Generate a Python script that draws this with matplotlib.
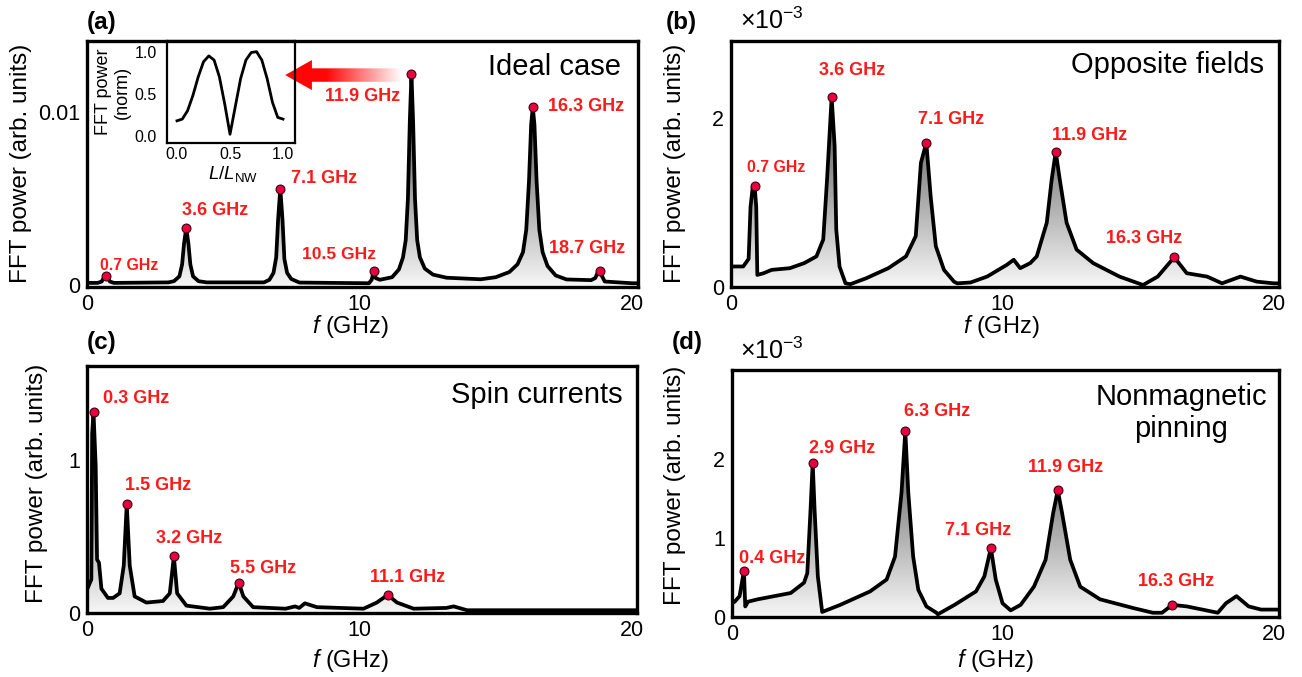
"""Four-panel FFT power spectra of nanowire spin-wave modes with peak labels."""

import matplotlib
matplotlib.use("Agg")
import matplotlib.pyplot as plt
import numpy as np
from matplotlib.colors import LinearSegmentedColormap
from matplotlib.patches import Polygon

plt.rcParams["font.family"] = ["Liberation Sans", "DejaVu Sans"]
plt.rcParams["mathtext.fontset"] = "custom"
plt.rcParams["mathtext.rm"] = "Liberation Sans"
plt.rcParams["mathtext.it"] = "Liberation Sans:italic"
plt.rcParams["mathtext.bf"] = "Liberation Sans:bold"

# ─────────────────────────────────────────────────────────────────────────────
# DATA (frequency in GHz, power in units of 1e-3 except panel c)
# ─────────────────────────────────────────────────────────────────────────────

freq_a = [0.0, 0.4, 0.55, 0.63, 0.70, 0.77, 0.85, 1.0, 3.0, 3.2, 3.4, 3.5, 3.57, 3.65,
          3.73, 3.8, 3.9, 4.1, 4.4, 6.5, 6.7, 6.85, 6.95, 7.02, 7.10, 7.18, 7.25,
          7.35, 7.5, 7.8, 10.35, 10.45, 10.53, 10.6, 10.75, 11.2, 11.45, 11.6, 11.7,
          11.78, 11.85, 11.91, 11.97, 12.04, 12.12, 12.22, 12.4, 12.7, 13.2, 14.45,
          15.0, 15.5, 15.8, 16.0, 16.12, 16.22, 16.3, 16.36, 16.42, 16.5, 16.6,
          16.72, 16.9, 17.2, 17.6, 18.5, 18.65, 18.75, 18.81, 18.87, 19.0, 20.0, 20.25]
power_a = [0.12, 0.12, 0.2, 0.42, 0.52, 0.42, 0.2, 0.12, 0.15, 0.22, 0.5, 1.2, 2.4, 3.3,
           2.4, 1.2, 0.5, 0.22, 0.15, 0.15, 0.3, 0.7, 1.6, 3.8, 5.58, 3.8, 1.5,
           0.7, 0.35, 0.14, 0.1, 0.3, 0.81, 0.4, 0.3, 0.45, 0.9, 1.6, 2.6,
           5.0, 9.5, 12.2, 9.5, 5.0, 2.6, 1.6, 0.95, 0.6, 0.42, 0.33,
           0.45, 0.75, 1.2, 1.9, 3.2, 6.0, 9.3, 10.3, 9.3, 6.0, 3.2,
           1.9, 1.1, 0.55, 0.32, 0.28, 0.4, 0.75, 0.81, 0.6, 0.2, 0.1, 0.1]
peak_f_a = [0.70, 3.65, 7.10, 10.53, 11.91, 16.36, 18.81]
peak_p_a = [0.52, 3.3, 5.58, 0.81, 12.2, 10.3, 0.81]
peak_lab_a = ["0.7 GHz", "3.6 GHz", "7.1 GHz", "10.5 GHz", "11.9 GHz", "16.3 GHz", "18.7 GHz"]

freq_b = [0.0, 0.45, 0.65, 0.72, 0.8, 0.87, 0.93, 0.97, 1.2, 1.5, 2.17, 2.7, 3.15, 3.4,
          3.54, 3.71, 3.82, 3.88, 4.0, 4.22, 4.4, 4.98, 5.8, 6.45, 6.81, 7.0, 7.2,
          7.36, 7.55, 7.85, 8.22, 8.34, 8.83, 9.44, 10.17, 10.42, 10.66, 11.03, 11.27,
          11.64, 11.82, 11.97, 12.12, 12.37, 12.74, 13.35, 14.32, 15.19, 15.73, 16.34,
          16.8, 17.55, 18.1, 18.78, 19.38, 20.0, 20.2]
power_b = [0.24, 0.24, 0.33, 0.95, 1.18, 1.2, 0.95, 0.14, 0.16, 0.2, 0.22, 0.28, 0.36, 0.56,
           1.27, 2.25, 1.67, 0.68, 0.24, 0.04, 0.03, 0.10, 0.22, 0.36, 0.6, 1.47, 1.71,
           1.07, 0.48, 0.2, 0.06, 0.04, 0.05, 0.12, 0.26, 0.32, 0.22, 0.28, 0.36,
           0.76, 1.27, 1.6, 1.27, 0.76, 0.44, 0.28, 0.12, 0.02, 0.12, 0.35,
           0.16, 0.12, 0.04, 0.12, 0.06, 0.04, 0.04]
peak_f_b = [0.87, 3.71, 7.2, 11.97, 16.34]
peak_p_b = [1.2, 2.25, 1.71, 1.6, 0.35]
peak_lab_b = ["0.7 GHz", "3.6 GHz", "7.1 GHz", "11.9 GHz", "16.3 GHz"]

freq_c = [0.0, 0.05, 0.17, 0.2, 0.25, 0.33, 0.38, 0.45, 0.54, 0.78, 0.97, 1.21, 1.36,
          1.47, 1.58, 1.76, 2.19, 2.8, 3.05, 3.2, 3.32, 3.66, 4.52, 5.01, 5.38, 5.58,
          5.75, 6.11, 7.3, 7.65, 7.8, 8.01, 8.45, 10.16, 10.65, 11.05, 11.39, 12.0,
          13.2, 13.47, 13.96, 20.0, 20.2]
power_c = [0.15, 0.17, 0.22, 1.17, 1.31, 0.96, 0.35, 0.33, 0.16, 0.10, 0.10, 0.13, 0.31,
           0.71, 0.31, 0.11, 0.07, 0.08, 0.13, 0.37, 0.13, 0.05, 0.03, 0.04, 0.11, 0.2,
           0.11, 0.04, 0.03, 0.045, 0.035, 0.065, 0.04, 0.03, 0.07, 0.12, 0.07, 0.03,
           0.035, 0.045, 0.02, 0.02, 0.02]
peak_f_c = [0.25, 1.47, 3.2, 5.58, 11.05]
peak_p_c = [1.31, 0.71, 0.37, 0.2, 0.12]
peak_lab_c = ["0.3 GHz", "1.5 GHz", "3.2 GHz", "5.5 GHz", "11.1 GHz"]

freq_d = [0.0, 0.1, 0.28, 0.44, 0.49, 0.59, 0.95, 2.17, 2.66, 2.78, 2.9, 2.98, 3.05,
          3.17, 3.33, 4.0, 5.1, 5.71, 6.02, 6.26, 6.4, 6.51, 6.69, 6.88, 7.18, 7.55,
          7.6, 8.22, 9.01, 9.32, 9.56, 9.74, 9.99, 10.29, 10.66, 11.15, 11.58, 11.86,
          12.03, 12.19, 12.49, 12.86, 13.59, 14.81, 15.54, 15.88, 16.26, 16.8, 17.94,
          18.24, 18.63, 19.08, 19.54, 20.0, 20.2]
power_d = [0.17, 0.19, 0.26, 0.58, 0.13, 0.19, 0.22, 0.3, 0.43, 0.55, 1.35, 1.95, 1.35,
           0.51, 0.06, 0.15, 0.32, 0.47, 0.76, 1.57, 2.35, 1.57, 0.76, 0.34, 0.13, 0.05,
           0.03, 0.15, 0.32, 0.51, 0.87, 0.47, 0.17, 0.08, 0.15, 0.38, 0.72, 1.31,
           1.6, 1.31, 0.72, 0.38, 0.22, 0.11, 0.05, 0.05, 0.15, 0.13, 0.05,
           0.17, 0.26, 0.13, 0.09, 0.09, 0.09]
peak_f_d = [0.44, 2.98, 6.4, 9.56, 12.03, 16.26]
peak_p_d = [0.58, 1.95, 2.35, 0.87, 1.6, 0.15]
peak_lab_d = ["0.4 GHz", "2.9 GHz", "6.3 GHz", "7.1 GHz", "11.9 GHz", "16.3 GHz"]

# inset of panel (a): normalised mode profile along the wire
inset_pos = [0.0, 0.05, 0.1, 0.15, 0.2, 0.25, 0.3, 0.35, 0.4, 0.45, 0.5, 0.55, 0.6,
             0.65, 0.7, 0.75, 0.8, 0.85, 0.9, 0.95, 1.0]
inset_power = [0.18, 0.2, 0.3, 0.48, 0.7, 0.88, 0.95, 0.9, 0.7, 0.38, 0.02, 0.35, 0.68,
               0.9, 0.99, 1.0, 0.9, 0.68, 0.4, 0.22, 0.2]

# ─────────────────────────────────────────────────────────────────────────────
# LAYOUT (label positions in data coordinates, sizes in pt)
# ─────────────────────────────────────────────────────────────────────────────

label_xy_a = [(1.55, 1.12), (4.69, 4.3), (8.71, 6.14), (9.24, 1.74), (10.13, 10.94),
              (18.3, 10.36), (18.35, 2.12)]
label_size_a = [11.4, 13, 13, 12.6, 13, 13, 13]
label_xy_b = [(1.66, 1.41), (4.48, 2.57), (8.1, 1.99), (13.2, 1.79), (15.24, 0.57)]
label_size_b = [11.4, 13, 13, 13, 13]
label_xy_c = [(1.83, 1.40), (2.62, 0.83), (3.77, 0.49), (6.48, 0.29), (11.76, 0.23)]
label_size_c = [13] * 5
label_xy_d = [(1.5, 0.74), (4.05, 2.13), (7.56, 2.59), (9.08, 1.09), (12.32, 1.89),
              (16.41, 0.45)]
label_size_d = [13] * 6

W, H = 1302, 677
XMAX = 20.2
LABEL_RED = "#ff1a1a"
GRAY = LinearSegmentedColormap.from_list("fill", ["#f7f7f7", "#1c1c1c"])

fig = plt.figure(figsize=(W / 100, H / 100), dpi=100)


def px_box(left, top, right, bottom):
    """Convert a pixel box (origin top-left) to figure fractions."""
    return [left / W, 1 - bottom / H, (right - left) / W, (bottom - top) / H]


def fig_text(x, y, s, **kw):
    """Place text at a pixel position (origin top-left)."""
    return fig.text(x / W, 1 - y / H, s, **kw)


def draw_panel(box, freq, power, ylim, yticks, yticklabels, peak_f, peak_p,
               peak_labels, label_xy, label_sizes):
    ax = fig.add_axes(box)

    # vertical grey gradient clipped to the area under the spectrum
    grad = np.linspace(0, 1, 256).reshape(-1, 1)
    im = ax.imshow(grad, cmap=GRAY, origin="lower", aspect="auto",
                   extent=[0, XMAX, ylim[0], ylim[1]], zorder=1,
                   interpolation="bilinear")
    verts = [(freq[0], ylim[0])] + list(zip(freq, power)) + [(freq[-1], ylim[0])]
    under = Polygon(verts, closed=True, facecolor="none", edgecolor="none")
    ax.add_patch(under)
    im.set_clip_path(under)

    ax.plot(freq, power, color="black", lw=2.7, solid_joinstyle="round",
            solid_capstyle="round", zorder=3)
    ax.plot(peak_f, peak_p, "o", ms=6.4, mfc="#e8003f", mec="#3d0010", mew=0.8,
            zorder=4, clip_on=False)
    for lab, (lx, ly), size in zip(peak_labels, label_xy, label_sizes):
        ax.text(lx, ly, lab, color=LABEL_RED, fontweight="bold", fontsize=size,
                ha="center", va="center", zorder=5)

    ax.set_xlim(0, XMAX)
    ax.set_ylim(*ylim)
    ax.set_xticks([0, 10, 20])
    ax.set_yticks(yticks)
    ax.set_yticklabels(yticklabels)
    ax.tick_params(length=0, labelsize=15.5, pad=5)
    for spine in ax.spines.values():
        spine.set_linewidth(2.4)
        spine.set_zorder(6)
    return ax


ax_a = draw_panel(px_box(86.7, 40.7, 637.5, 286.7), freq_a, power_a, (-0.1, 14.15),
                  [0, 10], ["0", "0.01"], peak_f_a, peak_p_a, peak_lab_a,
                  label_xy_a, label_size_a)
ax_b = draw_panel(px_box(731, 40.7, 1279, 286.7), freq_b, power_b, (0, 2.92),
                  [0, 2], ["0", "2"], peak_f_b, peak_p_b, peak_lab_b,
                  label_xy_b, label_size_b)
ax_c = draw_panel(px_box(86.7, 366, 637, 613.3), freq_c, power_c, (0, 1.61),
                  [0, 1], ["0", "1"], peak_f_c, peak_p_c, peak_lab_c,
                  label_xy_c, label_size_c)
ax_d = draw_panel(px_box(732, 370, 1279, 616.7), freq_d, power_d, (0, 3.12),
                  [0, 1, 2], ["0", "1", "2"], peak_f_d, peak_p_d, peak_lab_d,
                  label_xy_d, label_size_d)

# red arrow in panel (a) pointing from the 11.9 GHz peak to the inset
arrow_verts = [(7.28, 12.16), (8.26, 13.03), (8.26, 12.55), (11.57, 12.55),
               (11.57, 11.77), (8.26, 11.77), (8.26, 11.29)]
arrow = Polygon(arrow_verts, closed=True, facecolor="none", edgecolor="none")
ax_a.add_patch(arrow)
xs = np.linspace(7.28, 11.57, 256)
rgba = np.zeros((2, xs.size, 4))
rgba[..., 0] = 1.0
rgba[..., 1] = 0.02
rgba[..., 2] = 0.02
rgba[..., 3] = np.clip((11.57 - xs) / (11.57 - 8.8), 0, 1)
arrow_im = ax_a.imshow(rgba, extent=[7.28, 11.57, 11.29, 13.03], aspect="auto",
                       zorder=7, interpolation="bilinear")
arrow_im.set_clip_path(arrow)
ax_a.set_xlim(0, XMAX)
ax_a.set_ylim(-0.1, 14.15)

# inset
ax_in = fig.add_axes(px_box(166.7, 40.7, 294.6, 143.3))
ax_in.patch.set_alpha(0)
ax_in.plot(inset_pos, inset_power, color="black", lw=2.0, solid_joinstyle="round")
ax_in.set_xlim(-0.097, 1.109)
ax_in.set_ylim(-0.087, 1.13)
ax_in.set_xticks([0, 0.5, 1.0])
ax_in.set_yticks([0, 0.5, 1.0])
ax_in.set_xticklabels(["0.0", "0.5", "1.0"])
ax_in.set_yticklabels(["0.0", "0.5", "1.0"])
ax_in.tick_params(length=0, labelsize=11.5)
ax_in.tick_params(axis="y", pad=7)
ax_in.tick_params(axis="x", pad=3)
for spine in ax_in.spines.values():
    spine.set_linewidth(1.6)
fig_text(113, 92, "FFT power\n(norm)", rotation=90, ha="center", va="center",
         fontsize=13, linespacing=1.2)
fig_text(233, 174, r"$L/L_{\mathrm{NW}}$", ha="center", va="center", fontsize=13.5)

# panel titles
fig_text(621, 66.7, "Ideal case", ha="right", va="center", fontsize=21)
fig_text(1264, 65, "Opposite fields", ha="right", va="center", fontsize=21)
fig_text(623, 395, "Spin currents", ha="right", va="center", fontsize=21)
fig_text(1181, 413, "Nonmagnetic\npinning", ha="center", va="center", fontsize=21,
         linespacing=1.15)

# panel letters
for x, y, s in [(102, 23, "(a)"), (681, 23, "(b)"), (102, 342, "(c)"), (687, 342, "(d)")]:
    fig_text(x, y, s, ha="center", va="center", fontsize=17.5, fontweight="bold")

# multipliers
fig_text(772, 21, r"$\times10^{-3}$", ha="center", va="center", fontsize=18)
fig_text(772, 351, r"$\times10^{-3}$", ha="center", va="center", fontsize=18)

# axis labels
for x, y in [(21, 163), (675, 163), (37.5, 483), (675, 485)]:
    fig_text(x, y, "FFT power (arb. units)", rotation=90, ha="center", va="center",
             fontsize=17.5)
for x, y in [(350, 327), (1001, 327), (350, 660), (995, 660)]:
    fig_text(x, y, r"$f$ (GHz)", ha="center", va="center", fontsize=17)

fig.savefig("out.png", dpi=100)
